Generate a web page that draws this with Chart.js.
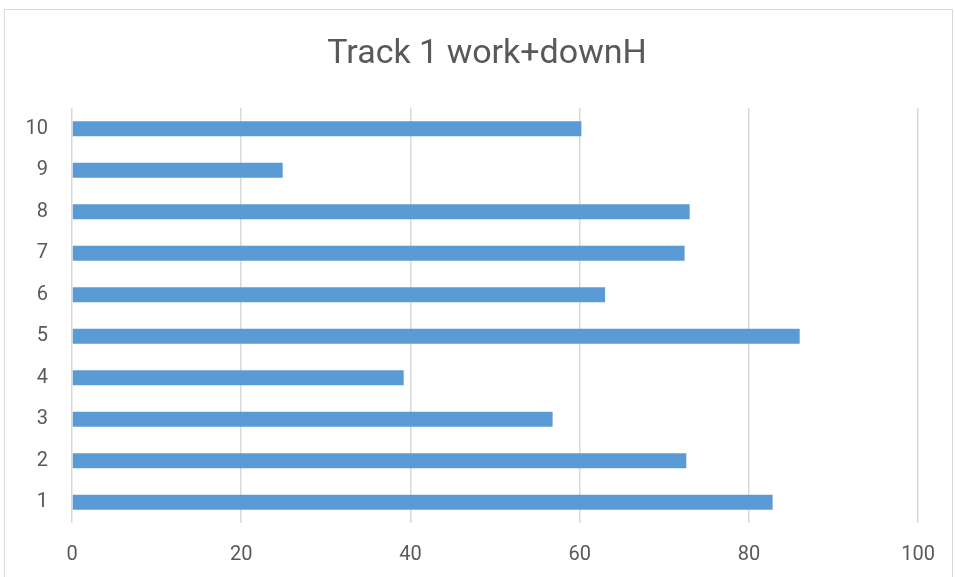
<!DOCTYPE html>
<html>
<head>
<meta charset="utf-8">
<script src="https://cdn.jsdelivr.net/npm/chart.js@4/dist/chart.umd.min.js"></script>
<style>
  html, body { margin: 0; padding: 0; background: #fff; }
  #wrap { width: 955px; height: 577px; }
</style>
</head>
<body>
<div id="wrap"><canvas id="trackChart" width="955" height="577"></canvas></div>
<script>
// data
const categories = ['1', '2', '3', '4', '5', '6', '7', '8', '9', '10'];
const values = [82.8, 72.6, 56.8, 39.2, 86.0, 63.0, 72.4, 73.0, 24.9, 60.2];
const xTicks = [0, 20, 40, 60, 80, 100];
const chartTitle = 'Track 1 work+downH';

const textColor = '#595959';
const fontFamily = "'Roboto', sans-serif";

// Excel-like chart border + title centred on the whole frame
const chartFrame = {
    id: 'chartFrame',
    beforeDraw(chart) {
        const ctx = chart.ctx;
        ctx.save();
        ctx.fillStyle = '#fff';
        ctx.fillRect(0, 0, chart.width, chart.height);
        ctx.strokeStyle = '#d9d9d9';
        ctx.lineWidth = 1;
        ctx.strokeRect(4.5, 9.5, 948, 580);
        ctx.fillStyle = textColor;
        ctx.font = '34px ' + fontFamily;
        ctx.textAlign = 'center';
        ctx.textBaseline = 'middle';
        ctx.fillText(chartTitle, 487, 54);
        ctx.restore();
    }
};

const ctx = document.getElementById('trackChart').getContext('2d');
const trackChart = new Chart(ctx, {
    type: 'bar',
    data: {
        labels: categories,
        datasets: [{
            data: values,
            backgroundColor: '#5b9bd5',
            borderWidth: 0,
            categoryPercentage: 1,
            barPercentage: 0.36
        }]
    },
    options: {
        indexAxis: 'y',
        responsive: false,
        animation: false,
        layout: { padding: { left: 4, right: 34, top: 108, bottom: 0 } },
        plugins: {
            legend: { display: false },
            tooltip: { enabled: false },
            title: { display: false }
        },
        scales: {
            x: {
                min: 0,
                max: 100,
                afterBuildTicks: (scale) => { scale.ticks = xTicks.map(v => ({ value: v })); },
                afterFit: (scale) => { scale.height = 54; },
                grid: { color: '#d9d9d9', lineWidth: 1.5, drawTicks: false },
                border: { display: false },
                ticks: { color: textColor, padding: 20, font: { family: fontFamily, size: 20 } }
            },
            y: {
                reverse: true,
                afterFit: (scale) => { scale.width = 68; },
                grid: { display: false, drawTicks: false },
                border: { display: false },
                ticks: { color: textColor, padding: 24, font: { family: fontFamily, size: 20 } }
            }
        }
    },
    plugins: [chartFrame]
});
</script>
</body>
</html>
